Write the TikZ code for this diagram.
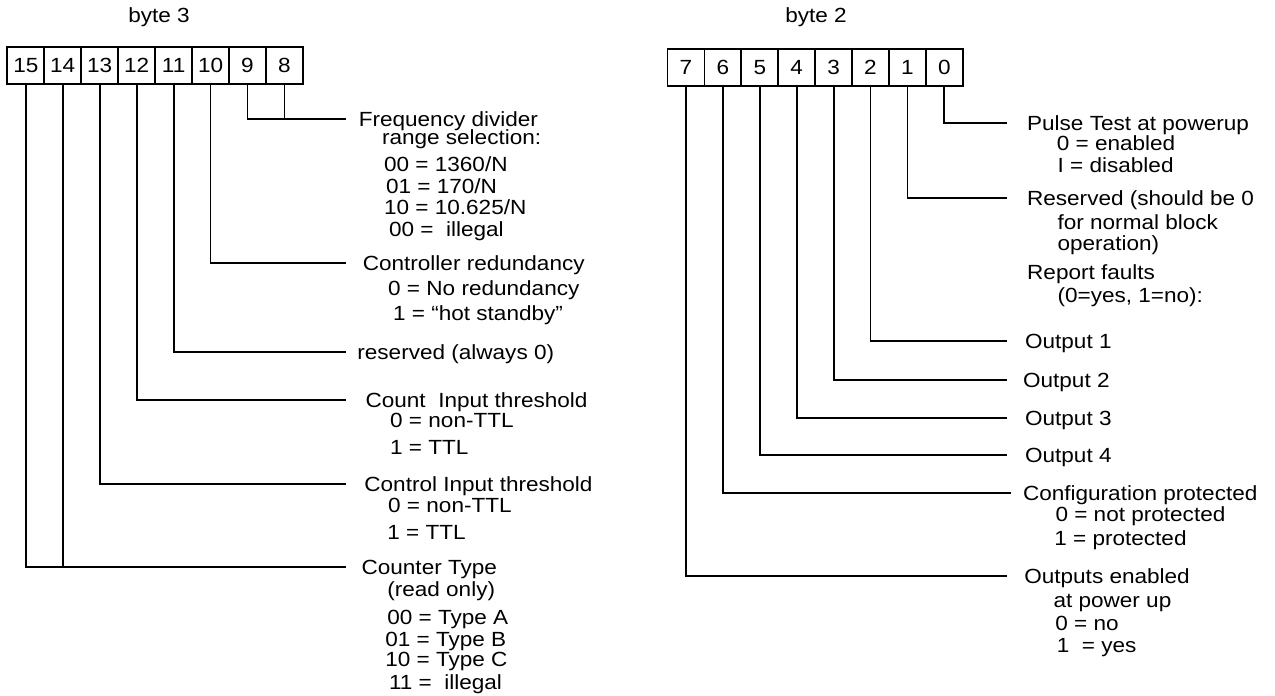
\documentclass[tikz,border=0pt]{standalone}
\usepackage{fontspec}
\setmainfont[FakeStretch=1.1]{Liberation Sans}
\usepackage{tikz}
\usetikzlibrary{positioning,calc}

\begin{document}
\begin{tikzpicture}[x=0.5pt,y=-0.5pt,font=\fontsize{10.25}{12}\selectfont,
  bitcell/.style={draw,line width=0.9pt,minimum width=18.5pt,minimum height=18.5pt,inner sep=0pt,
    text height=0.716em,text depth=0pt},
  title/.style={anchor=west,inner xsep=#1,inner ysep=0pt,text height=0.716em,text depth=0pt},
  title/.default=6pt,
  note/.style={anchor=west,inner sep=0pt,text height=0.716em,text depth=0pt},
  lead/.style={line width=0.9pt}]
\useasboundingbox (0,0) rectangle (1275,696);

% register cells
\node (byte3) at (159,17) {byte 3};
\node (byte2) at (816,17) {byte 2};
\foreach \b [count=\i from 0] in {15,14,...,8}
  \node[bitcell] (b\b) at ({25.8+36.95*\i},65.5) {\b};
\foreach \b [count=\i from 0] in {7,6,...,0}
  \node[bitcell] (b\b) at ({686+36.9*\i},67.5) {\b};

% byte 3 fields
\node[title=6.2pt] (fdiv) at (346,119) {Frequency divider};
\node[title=8.2pt] (redund) at (346,263) {Controller redundancy};
\node[title=5.5pt] (rsvd3) at (346,352) {reserved (always 0)};
\node[title=9.6pt] (cntin) at (346,400) {Count\ \ Input threshold};
\node[title=9pt] (ctlin) at (346,484) {Control Input threshold};
\node[title=7.6pt] (ctype) at (346,567) {Counter Type};
\foreach \x/\y/\t [count=\k] in {381.6/137/{range selection:},383.7/164/{00 = 1360/N},
    385.7/186/{01 = 170/N},383.7/207/{10 = 10.625/N},388.6/229/{00 =\ \ illegal},
    387.8/288/{0 = No redundancy},392.7/313/{1 = “hot standby”},
    389.8/420/{0 = non-TTL},389.8/447/{1 = TTL},387.8/505/{0 = non-TTL},386.9/532/{1 = TTL},
    386.9/589/{(read only)},386.9/617/{00 = Type A},384.9/639/{01 = Type B},
    384.9/659/{10 = Type C},388.6/682/{11 =\ \ illegal}}
  \node[note] (n3-\k) at (\x,\y) {\t};

% byte 2 fields
\node[title=10.1pt] (pulse) at (1006.5,123) {Pulse Test at powerup};
\node[title=10.1pt] (rsvd2) at (1006.5,198) {Reserved (should be 0};
\node[title=9.1pt] (out1) at (1006.5,341) {Output 1};
\node[title=8.1pt] (out2) at (1006.5,380) {Output 2};
\node[title=9.1pt] (out3) at (1006.5,418) {Output 3};
\node[title=9.1pt] (out4) at (1006.5,455) {Output 4};
\node[title=6pt] (conf) at (1010.6,493) {Configuration protected};
\node[title=8.7pt] (oen) at (1006.5,576) {Outputs enabled};
\node[note] (rptf) at (1026.8,272) {Report faults};
\foreach \x/\y/\t [count=\k] in {1056.4/143/{0 = enabled},1057.2/165/{I = disabled},
    1057.2/222/{for normal block},1057.2/243/{operation)},1057.2/295/{(0=yes, 1=no):},
    1055.1/514/{0 = not protected},1053.9/538/{1 = protected},
    1053.1/600/{at power up},1055/623/{0 = no},1056.4/645/{1\ \ = yes}}
  \node[note] (n2-\k) at (\x,\y) {\t};

% leads
\foreach \b/\t in {9/fdiv,10/redund,11/rsvd3,12/cntin,13/ctlin,15/ctype,
    0/pulse,1/rsvd2,2/out1,3/out2,4/out3,5/out4,6/conf,7/oen}
  \draw[lead] (b\b.south) |- (\t.west);
\draw[lead] (b8.south) -- (b8.south |- fdiv.west);
\draw[lead] (b14.south) -- (b14.south |- ctype.west);
\end{tikzpicture}
\end{document}
